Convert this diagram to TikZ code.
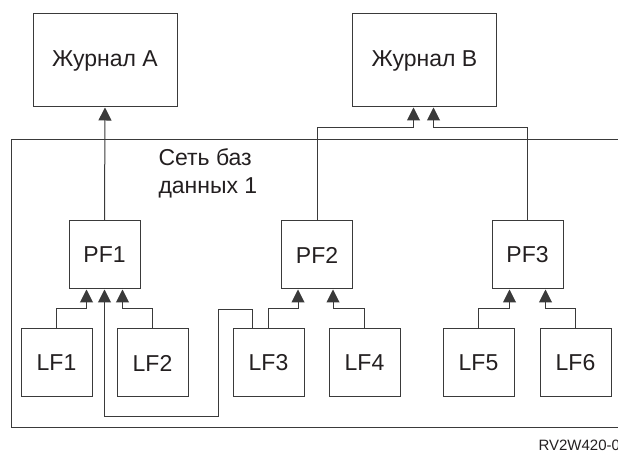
\documentclass[tikz,border=0pt]{standalone}
\usepackage{fontspec}
\setmainfont{Liberation Sans}
\usepackage{tikz}
\usetikzlibrary{arrows.meta}
\usetikzlibrary{positioning}
\definecolor{linegray}{HTML}{3A3A3A}
\definecolor{inkgray}{HTML}{231F20}
\tikzstyle{journal}=[rectangle,draw=linegray,text=inkgray,inner sep=0mm,minimum width=144,minimum height=93,font=\fontsize{23}{28}\selectfont]
\tikzstyle{file}=[rectangle,draw=linegray,text=inkgray,inner sep=0mm,minimum width=71,minimum height=68,font=\fontsize{23}{28}\selectfont]
\tikzset{link/.style={draw=linegray,>={Triangle[length=13pt,width=13pt]},->}}
\tikzset{every picture/.style={
    line width=1
  }
}
\begin{document}
\begin{tikzpicture}[x=1pt,y=1pt]
        \useasboundingbox (0,0) rectangle (618,452);
        % network frame, open to the right
        \draw[linegray] (618,312) -- (11,312) -- (11,24) -- (618,24);
        \node[anchor=north west,align=left,inner sep=0,text=inkgray,font=\fontsize{23}{28}\selectfont] at (158,304) (net) {Сеть баз\\данных 1};
        \node[journal] at (105,391.5) (ja) {Журнал А};
        \node[journal] at (424.5,391.5) (jb) {Журнал В};
        \node[file] at (104.5,197) (pf1) {PF1};
        \node[file] at (317,197) (pf2) {PF2};
        \node[file] at (527.5,197) (pf3) {PF3};
        \node[file] at (56.5,89) (lf1) {LF1};
        \node[file] at (152.5,89) (lf2) {LF2};
        \node[file] at (268.5,89) (lf3) {LF3};
        \node[file] at (364.5,89) (lf4) {LF4};
        \node[file] at (478.5,89) (lf5) {LF5};
        \node[file] at (575.5,89) (lf6) {LF6};
        \coordinate (via) at (218,35);
        \draw[link] (pf1.north) -- (ja.south);
        \draw[link] (pf2.north) |- ([xshift=-11pt,yshift=-20pt]jb.south) -- ([xshift=-11pt]jb.south);
        \draw[link] (pf3.north) |- ([xshift=9pt,yshift=-20pt]jb.south) -- ([xshift=9pt]jb.south);
        \draw[link] (lf1.north) -- ++(0,20) -| ([xshift=-18pt]pf1.south);
        \draw[link] (lf2.north) -- ++(0,20) -| ([xshift=18pt]pf1.south);
        \draw[link] ([xshift=-16pt]lf3.north) -- ++(0,19) -| (via) -| (pf1.south);
        \draw[link] (lf3.north) -- ++(0,20) -| ([xshift=-19pt]pf2.south);
        \draw[link] (lf4.north) -- ++(0,20) -| ([xshift=16pt]pf2.south);
        \draw[link] (lf5.north) -- ++(0,20) -| ([xshift=-18pt]pf3.south);
        \draw[link] (lf6.north) -- ++(0,20) -| ([xshift=18pt]pf3.south);
        \node[anchor=base west,inner sep=0,text=inkgray,font=\fontsize{15}{17}\selectfont] at (538,1.5) (tag) {RV2W420-0};
      \end{tikzpicture}
\end{document}
